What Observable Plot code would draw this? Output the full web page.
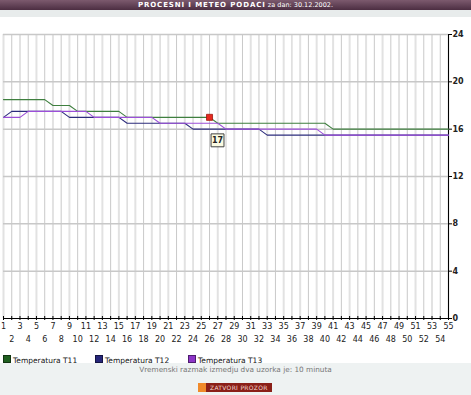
<!DOCTYPE html>
<html><head><meta charset="utf-8">
<script src="https://cdn.jsdelivr.net/npm/d3@7"></script>
<script src="https://cdn.jsdelivr.net/npm/@observablehq/plot@0.6"></script>
<style>
html,body{margin:0;padding:0}
body{width:471px;height:395px;background:#fff;position:relative;overflow:hidden;font-family:"DejaVu Sans",sans-serif}
#banner{position:absolute;left:0;top:0;width:471px;height:10px;background:linear-gradient(#7c5a6e,#4c2e42);color:#fff;text-align:center;line-height:10px;white-space:nowrap;font-size:6.5px}
#banner b{font-size:7px;letter-spacing:0.9px}
#band{position:absolute;left:0;top:10px;width:471px;height:7px;background:#e8ecec}
#chart{position:absolute;left:0;top:17px}
#foot{position:absolute;left:0;top:363px;width:471px;height:32px;background:#eef2f2}
.leg{position:absolute;top:355px;font-size:7.5px;line-height:9px;color:#111;white-space:nowrap}
.leg i{display:inline-block;width:6px;height:6px;vertical-align:-0.5px;margin-right:2px;border:1px solid rgba(0,0,0,.45)}
#cap{position:absolute;top:365px;left:0;width:471px;text-align:center;font-size:7.3px;color:#777;line-height:9px}
#btn{position:absolute;left:198px;top:383px;height:9px;width:74px;background:#8a1f18;color:#f3d8d0;font-size:6px;line-height:9px;white-space:nowrap;letter-spacing:0.3px}
#btn span.ic{position:absolute;left:0;top:0;width:8px;height:9px;background:#f08a2a}
#btn span.tx{position:absolute;left:12px;top:0}
</style></head>
<body>
<div id="banner"><b>PROCESNI I METEO PODACI</b> za dan: 30.12.2002.</div>
<div id="band"></div>
<div id="chart"></div>
<div id="foot"></div>
<div id="legend"></div>
<div id="cap">Vremenski razmak izmedju dva uzorka je: 10 minuta</div>
<div id="btn"><span class="ic"></span><span class="tx">ZATVORI PROZOR</span></div>
<script>
const samples = [1,2,3,4,5,6,7,8,9,10,11,12,13,14,15,16,17,18,19,20,21,22,23,24,25,26,27,28,29,30,31,32,33,34,35,36,37,38,39,40,41,42,43,44,45,46,47,48,49,50,51,52,53,54,55];
const yTicks = [0,4,8,12,16,20,24];
const seriesNames = ["Temperatura T11","Temperatura T12","Temperatura T13"];
const seriesColors = ["#3f7f3f","#2c2c7c","#9c4fd8"];
const legendColors = ["#1f5f1f","#26267a","#8d35c8"];
const T11 = [18.5,18.5,18.5,18.5,18.5,18.5,18,18,18,17.5,17.5,17.5,17.5,17.5,17.5,17,17,17,17,17,17,17,17,17,17,17,16.5,16.5,16.5,16.5,16.5,16.5,16.5,16.5,16.5,16.5,16.5,16.5,16.5,16.5,16,16,16,16,16,16,16,16,16,16,16,16,16,16,16];
const T12 = [17,17.5,17.5,17.5,17.5,17.5,17.5,17.5,17,17,17,17,17,17,17,16.5,16.5,16.5,16.5,16.5,16.5,16.5,16.5,16,16,16,16,16,16,16,16,16,15.5,15.5,15.5,15.5,15.5,15.5,15.5,15.5,15.5,15.5,15.5,15.5,15.5,15.5,15.5,15.5,15.5,15.5,15.5,15.5,15.5,15.5,15.5];
const T13 = [17,17,17,17.5,17.5,17.5,17.5,17.5,17.5,17.5,17.5,17,17,17,17,17,17,17,17,16.5,16.5,16.5,16.5,16.5,16.5,16.5,16.5,16,16,16,16,16,16,16,16,16,16,16,16,15.5,15.5,15.5,15.5,15.5,15.5,15.5,15.5,15.5,15.5,15.5,15.5,15.5,15.5,15.5,15.5];
const tipSample = 26;

const seriesValues = [T11, T12, T13];
const tables = seriesValues.map(vals => samples.map((s, i) => ({x: s, y: vals[i]})));
const tip = [{x: tipSample, y: T11[samples.indexOf(tipSample)]}];
const oddLabels = samples.filter(s => s % 2 === 1);
const evenLabels = samples.filter(s => s % 2 === 0);

const chart = Plot.plot({
  width: 471, height: 330,
  marginLeft: 3, marginRight: 23, marginTop: 17, marginBottom: 29,
  x: {domain: [1, 55], axis: null},
  y: {domain: [0, 24], axis: null},
  style: {fontFamily: "DejaVu Sans, sans-serif", fontSize: "8px", background: "transparent", overflow: "visible"},
  marks: [
    Plot.ruleX(oddLabels, {stroke: "#e2e2e2", strokeWidth: 2}),
    Plot.ruleX(evenLabels, {stroke: "#c9c9c9", strokeWidth: 1}),
    Plot.ruleY(yTicks.filter(d => d > 0), {stroke: "#c8c8c8", strokeWidth: 1.5}),
    Plot.ruleY([0], {stroke: "#000"}),
    Plot.ruleX([55], {stroke: "#000"}),
    Plot.ruleX(samples, {y1: 0, y2: 0, insetTop: 2, insetBottom: 2, stroke: "#000"}),
    Plot.axisY({anchor: "right", ticks: yTicks, tickSize: 3, tickPadding: 1, label: null, fontWeight: "bold", fontSize: 8, fill: "#222"}),
    Plot.text(oddLabels, {x: d => d, frameAnchor: "bottom", dy: 8, lineAnchor: "middle", fill: "#222", fontSize: 8}),
    Plot.text(evenLabels, {x: d => d, frameAnchor: "bottom", dy: 21, lineAnchor: "middle", fill: "#222", fontSize: 8}),
    ...tables.map((t, k) => Plot.line(t, {x: "x", y: "y", stroke: seriesColors[k], strokeWidth: 1.1})),
    Plot.dot(tip, {x: "x", y: "y", symbol: "square", r: 3.4, fill: "#e52a1f", stroke: "#a0140e", strokeWidth: 0.8}),
    Plot.dot(tip, {x: "x", y: "y", symbol: "square", r: 7.3, dx: 8, dy: 23, fill: "#fbfbe2", stroke: "#444", strokeWidth: 1}),
    Plot.text(tip, {x: "x", y: "y", text: d => String(d.y), dx: 8, dy: 23, fontWeight: "bold", fontSize: 8, fill: "#222"})
  ]
});
document.getElementById("chart").appendChild(chart);

const legendX = [3, 95, 188];
const leg = document.getElementById("legend");
seriesNames.forEach((name, k) => {
  const d = document.createElement("div");
  d.className = "leg";
  d.style.left = legendX[k] + "px";
  d.innerHTML = `<i style="background:${legendColors[k]}"></i>${name}`;
  leg.appendChild(d);
});
</script>
</body></html>
